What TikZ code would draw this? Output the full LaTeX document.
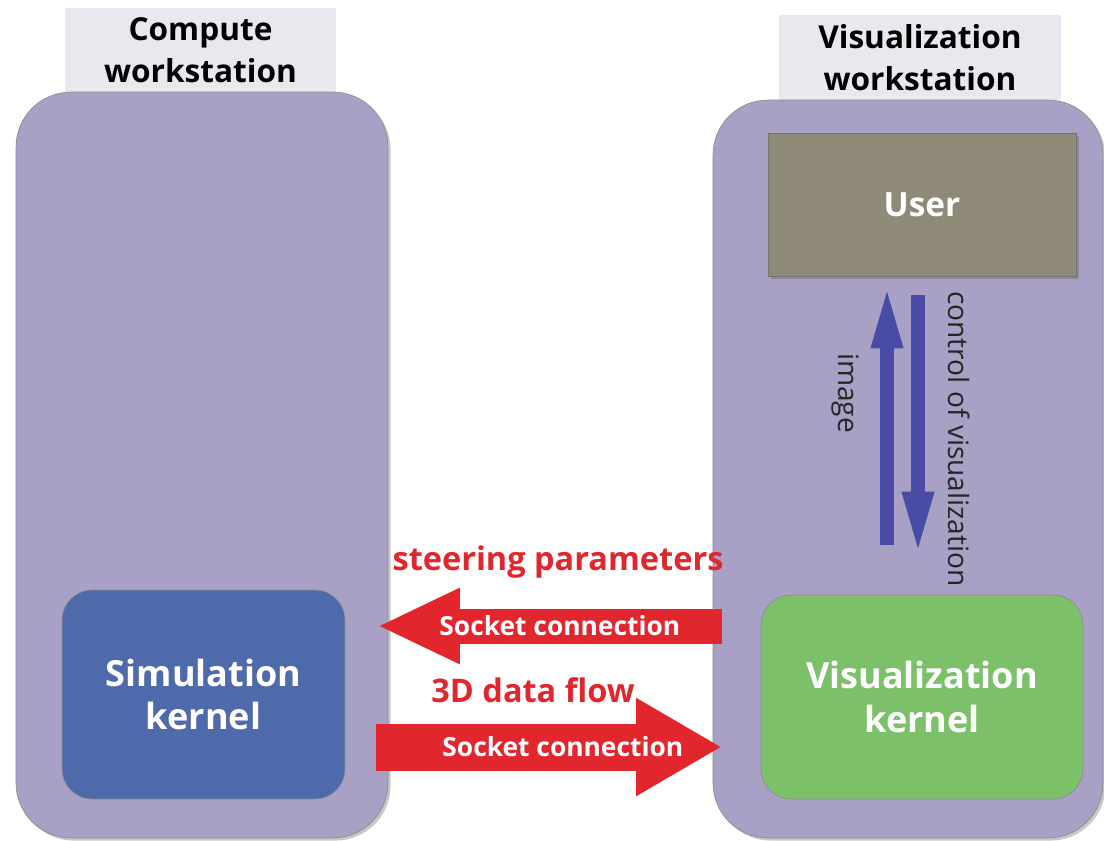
\documentclass[tikz,border=0pt]{standalone}
\usepackage{fontspec}
\setmainfont{Open Sans}
\usetikzlibrary{positioning,arrows.meta,calc,shadows}
\definecolor{stationfill}{RGB}{169,161,197}
\definecolor{titlegray}{RGB}{232,232,238}
\definecolor{userfill}{RGB}{143,138,120}
\definecolor{simblue}{RGB}{78,106,171}
\definecolor{visgreen}{RGB}{124,193,106}
\definecolor{socketred}{RGB}{226,38,45}
\definecolor{flowblue}{RGB}{72,76,165}
\tikzset{
  softshadow/.style={drop shadow={shadow xshift=1.5pt,shadow yshift=-1.5pt,opacity=0.3,fill=black!70}},
  station/.style={rectangle,rounded corners=1.1cm,draw=black!45,fill=stationfill,inner sep=0pt,softshadow},
  stationtitle/.style={rectangle,fill=titlegray,inner sep=0pt,align=center,font=\fontsize{18}{24}\selectfont\bfseries},
  kernel/.style={rectangle,rounded corners=0.6cm,draw=black!45,inner sep=0pt,align=center,text=white,font=\fontsize{20.5}{25}\selectfont\bfseries},
  userbox/.style={rectangle,draw=black!55,fill=userfill,inner sep=0pt,text=white,font=\fontsize{19}{22}\selectfont\bfseries,softshadow},
  viewflow/.style={draw=flowblue,line width=0.28cm,-{Triangle[length=1.3cm,width=0.56cm]}},
  vlabel/.style={rotate=-90,text=black!85,font=\fontsize{16}{19}\selectfont},
  socket/.style={draw=socketred},
  sockettext/.style={text=white,font=\fontsize{15}{18}\selectfont\bfseries},
  redlabel/.style={text=socketred,font=\fontsize{18.5}{22}\selectfont\bfseries}
}
\begin{document}
\begin{tikzpicture}[x=0.02cm,y=-0.02cm]
  \useasboundingbox[fill=white] (0,0) rectangle (1104,840);

  % workstations with their title tabs
  \node[stationtitle,minimum width=5.42cm,minimum height=1.68cm] (computetitle) at (200.5,50) {Compute\\workstation};
  \node[stationtitle,minimum width=5.64cm,minimum height=1.7cm] (vistitle) at (920,57.5) {Visualization\\workstation};
  \node[station,minimum width=7.44cm,minimum height=14.92cm] (compute) at (202,465) {};
  \node[station,minimum width=7.8cm,minimum height=14.76cm] (visws) at (908,469) {};

  % boxes inside
  \node[userbox,minimum width=6.16cm,minimum height=2.86cm] (user) at (922,204.5) {User};
  \node[kernel,fill=simblue,minimum width=5.66cm,minimum height=4.18cm] (simkernel) at (203.5,694.5) {Simulation\\kernel};
  \node[kernel,fill=visgreen,minimum width=6.44cm,minimum height=4.08cm] (viskernel) at (922,697) {Visualization\\kernel};

  % image and control between user and kernel
  \draw[viewflow] ($(viskernel.north)+(-35,-50)$) -- node[vlabel,pos=0.58,anchor=north,yshift=-8.5pt]{image} ($(user.south)+(-35,7)$);
  \draw[viewflow] ($(user.south)+(-4,19)$) -- node[vlabel,pos=0.55,anchor=south,yshift=10pt]{control of visualization} ($(viskernel.north)+(-4,-38)$);

  % socket connections
  \coordinate (steerfrom) at (722,626);
  \coordinate (steerto) at (377,626);
  \coordinate (datafrom) at (376,747);
  \coordinate (datato) at (722,747);
  \draw[socket,line width=0.7cm,-{Triangle[length=1.66cm,width=1.4cm]}] (steerfrom) -- node[sockettext,pos=0.47]{Socket connection} (steerto);
  \draw[socket,line width=0.94cm,-{Triangle[length=1.72cm,width=1.84cm]}] (datafrom) -- node[sockettext,pos=0.54]{Socket connection} (datato);
  \node[redlabel] (steerlabel) at (558,562) {steering parameters};
  \node[redlabel] (datalabel) at (533,690) {3D data flow};
\end{tikzpicture}
\end{document}
